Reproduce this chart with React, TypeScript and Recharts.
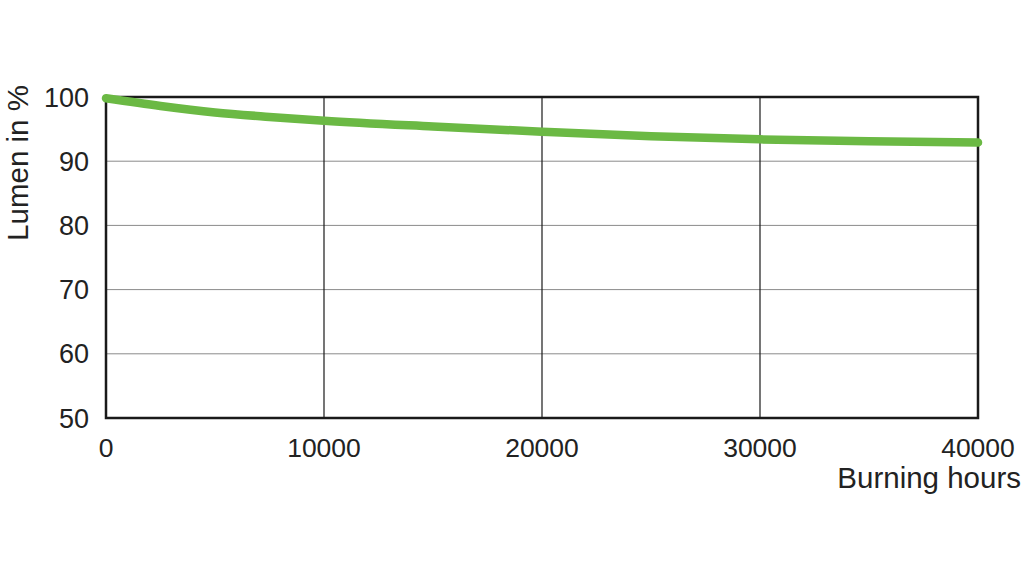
import React from 'react';
import { LineChart, Line, XAxis, YAxis, CartesianGrid, ReferenceArea, ReferenceLine, Label } from 'recharts';

const hours = [0, 2500, 5000, 7500, 10000, 15000, 20000, 25000, 30000, 35000, 40000];
const lumen = [99.8, 98.6, 97.6, 96.9, 96.3, 95.4, 94.6, 93.9, 93.4, 93.1, 92.9];
const xTicks = [0, 10000, 20000, 30000, 40000];
const yTicks = [50, 60, 70, 80, 90, 100];
const innerX = [10000, 20000, 30000];

const data = hours.map((h, i) => ({ h, v: lumen[i] }));
const FONT = 'Liberation Sans, Arial, sans-serif';

export default function App() {
  return (
    <div style={{ position: 'absolute', left: 0, top: 0, background: '#fff' }}>
      <LineChart width={1024} height={577} data={data} margin={{ top: 97, right: 46, bottom: 0, left: 0 }}>
        <CartesianGrid vertical={false} horizontal={true} stroke="#8a8a8a" strokeWidth={1} />
        {innerX.map((x) => (
          <ReferenceLine key={x} x={x} stroke="#1a1a1a" strokeWidth={1.2} />
        ))}
        <XAxis
          dataKey="h"
          type="number"
          domain={[0, 40000]}
          ticks={xTicks}
          height={159}
          axisLine={false}
          tickLine={false}
          tickMargin={14}
          tick={{ fill: '#222', fontSize: 26.5, fontFamily: FONT }}
          interval={0}
        >
          <Label
            content={(props: any) => {
              const vb = props.viewBox || {};
              return (
                <text x={vb.x + vb.width + 43} y={vb.y + 70} textAnchor="end" fill="#222" fontSize={29.5} fontFamily={FONT}>
                  Burning hours
                </text>
              );
            }}
          />
        </XAxis>
        <YAxis
          type="number"
          domain={[50, 100]}
          ticks={yTicks}
          width={106}
          axisLine={false}
          tickLine={false}
          tickMargin={11}
          tick={{ fill: '#222', fontSize: 27, fontFamily: FONT }}
          interval={0}
        >
          <Label
            content={(props: any) => {
              const vb = props.viewBox || {};
              const cx = 28;
              const cy = vb.y + 66;
              return (
                <text x={cx} y={cy} transform={`rotate(-90 ${cx} ${cy})`} textAnchor="middle" fill="#222" fontSize={29.5} fontFamily={FONT}>
                  Lumen in %
                </text>
              );
            }}
          />
        </YAxis>
        <ReferenceArea x1={0} x2={40000} y1={50} y2={100} fill="none" stroke="#1a1a1a" strokeWidth={2.5} ifOverflow="visible" />
        <Line
          type="monotone"
          dataKey="v"
          stroke="#6bb944"
          strokeWidth={8.5}
          strokeLinecap="round"
          dot={false}
          isAnimationActive={false}
        />
      </LineChart>
    </div>
  );
}
